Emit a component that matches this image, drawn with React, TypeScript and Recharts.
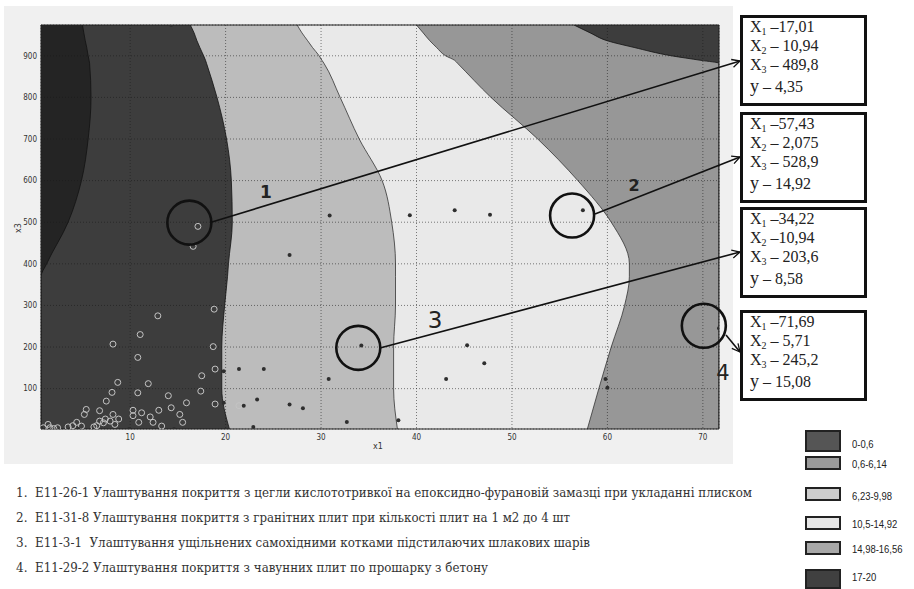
import React from 'react';
import {
  ComposedChart,
  Area,
  Scatter,
  XAxis,
  YAxis,
  CartesianGrid,
  ReferenceDot,
  ReferenceArea,
} from 'recharts';

// x3 levels at which the contour edges were read
const levels = [3, 100, 200, 300, 369, 400, 500, 600, 700, 800, 882, 889, 900, 920, 936, 955, 974];
// x1 position of each contour edge at those levels, left to right
const edgeDeep = [0.66, 0.66, 0.66, 0.66, 0.66, 1.25, 3.5, 4.9, 5.6, 5.9, 5.75, 5.7, 5.6, 5.45, 5.3, 5.15, 5.0];
const edgeDark = [20.4, 19.6, 19.6, 19.9, 20.2, 20.3, 20.7, 20.6, 20.1, 19.1, 18.0, 17.9, 17.7, 17.3, 17.0, 16.7, 16.3];
const edgeLight = [38.0, 37.6, 37.6, 37.8, 37.8, 37.8, 37.4, 36.4, 34.0, 32.0, 30.3, 30.1, 29.8, 29.1, 28.6, 28.0, 27.5];
const edgePale = [57.9, 59.1, 60.4, 61.8, 62.3, 62.3, 60.4, 56.9, 52.7, 47.8, 44.3, 44.0, 43.05, 42.1, 41.4, 40.7, 40.0];
const edgeCorner = [71.69, 71.69, 71.69, 71.69, 71.69, 71.69, 71.69, 71.69, 71.69, 71.69, 71.69, 69.8, 66.7, 62.8, 60.0, 58.2, 56.5];

const x1Ticks = [10, 20, 30, 40, 50, 60, 70];
const x3Ticks = [100, 200, 300, 400, 500, 600, 700, 800, 900];

// hollow markers (observations in the dark zone)
const holePoints = [
  [17.1, 490], [16.6, 442], [12.9, 275], [11.05, 230], [8.2, 207], [18.8, 291], [18.7, 201],
  [10.8, 175], [8.7, 115], [11.9, 112], [8.1, 91], [10.8, 90], [17.5, 131], [17.4, 94],
  [18.9, 147], [18.9, 63], [7.5, 70], [14.0, 83], [15.9, 66], [13.0, 48], [14.3, 54],
  [10.3, 48], [11.2, 42], [6.8, 47], [5.4, 50], [5.2, 38], [8.2, 38], [8.8, 27], [15.2, 38],
  [15.5, 19], [12.1, 32], [12.4, 19], [10.3, 35], [10.9, 19], [13.3, 10], [7.4, 27], [6.8, 22],
  [6.5, 11], [6.2, 8], [8.4, 14], [4.4, 19], [4.0, 11], [4.9, 10], [2.4, 6], [1.4, 14],
  [1.6, 6], [0.9, 6], [2.0, 4], [7.2, 18], [7.9, 22], [3.5, 8], [21.4, 59],
];
// filled markers
const dotPoints = [
  [9.9, 3], [14.6, 3], [4.6, 3], [0.66, 6], [14.3, 974], [26.7, 421], [19.8, 142], [21.4, 147],
  [24.0, 147], [19.8, 66], [21.9, 59], [23.3, 74], [26.7, 62], [22.9, 8], [30.9, 516], [39.3, 517],
  [44.0, 529], [47.7, 518], [57.43, 528.9], [34.22, 203.6], [30.8, 123], [28.1, 53], [32.7, 20],
  [38.1, 24], [45.3, 204], [47.1, 161], [43.1, 123], [59.8, 123], [60.0, 102], [71.69, 245.2],
];

// highlighted observations (circle centres)
const marks = [[16.2, 499], [56.3, 516], [33.9, 198], [70.1, 251]];

const noteX1 = [' –17,01', ' –57,43', ' –34,22', ' –71,69'];
const noteX2 = [' – 10,94', ' – 2,075', ' –10,94', ' – 5,71'];
const noteX3 = [' – 489,8', ' – 528,9', ' – 203,6', ' – 245,2'];
const noteY = [' – 4,35', ' – 14,92', ' – 8,58', ' – 15,08'];

const legendLabels = ['0-0,6', '0,6-6,14', '6,23-9,98', '10,5-14,92', '14,98-16,56', '17-20'];
const legendColors = ['#555555', '#9a9a9a', '#cdcdcd', '#e6e6e6', '#a8a8a8', '#404040'];

const workItems = [
  'E11-26-1 Улаштування покриття з цегли кислототривкої на епоксидно-фурановій замазці при укладанні плиском',
  'E11-31-8 Улаштування покриття з гранітних плит при кількості плит на 1 м2 до 4 шт',
  'E11-3-1  Улаштування ущільнених самохідними котками підстилаючих шлакових шарів',
  'E11-29-2 Улаштування покриття з чавунних плит по прошарку з бетону',
];
const workWidths = [717, 535, 555, 453];

const data = levels.map((x3, i) => ({
  x3,
  deep: edgeDeep[i],
  dark: edgeDark[i],
  light: edgeLight[i],
  pale: edgePale[i],
  corner: edgeCorner[i],
}));
const holes = holePoints.map(([x1, x3]) => ({ x1, x3 }));
const dots = dotPoints.map(([x1, x3]) => ({ x1, x3 }));

const Hole = (p: any) => <circle cx={p.cx} cy={p.cy} r={3} fill="none" stroke="#c4c4c4" strokeWidth={1} />;
const Dot = (p: any) => <circle cx={p.cx} cy={p.cy} r={2} fill="#2e2e2e" />;

const tickStyle = { fontSize: 8, fill: '#333', fontFamily: 'DejaVu Sans Condensed, DejaVu Sans, sans-serif' };

const boxTops = [15, 112, 207, 310];
const legendTops = [430, 456, 487, 516, 541, 569];
const legendHeights = [22, 14, 14, 14, 14, 20];
const legendMids = [444, 464, 496, 524, 549, 577];
const arrows = [
  [212, 222, 740, 61],
  [595, 214, 740, 157],
  [380, 348, 740, 252],
  [726, 335, 740, 352],
];

export default function App() {
  return (
    <div style={{ position: 'absolute', left: 0, top: 0, width: 914, height: 589, background: '#fff', overflow: 'hidden' }}>
      <div style={{ position: 'absolute', left: 4, top: 6, width: 729, height: 458, background: '#f0f0f0' }} />
      <div style={{ position: 'absolute', left: 0, top: 0 }}>
        <ComposedChart
          layout="vertical"
          width={733}
          height={464}
          data={data}
          margin={{ top: 25, right: 14, bottom: 14, left: 11 }}
        >
          <CartesianGrid horizontal={false} vertical={false} fill="#979797" fillOpacity={1} />
          <XAxis
            type="number"
            domain={[0.66, 71.69]}
            ticks={x1Ticks}
            allowDataOverflow
            tick={tickStyle}
            tickLine={false}
            axisLine={false}
            tickSize={3}
            tickMargin={2}
            height={21}
          />
          <YAxis
            type="number"
            dataKey="x3"
            domain={[3, 974]}
            ticks={x3Ticks}
            reversed
            allowDataOverflow
            tick={tickStyle}
            tickLine={false}
            axisLine={false}
            tickSize={3}
            tickMargin={1}
            width={30}
          />
          <Area dataKey="pale" type="monotoneY" fill="#e9e9e9" fillOpacity={1} stroke="#333" strokeWidth={0.8} isAnimationActive={false} />
          <Area dataKey="light" type="monotoneY" fill="#bcbcbc" fillOpacity={1} stroke="#333" strokeWidth={0.8} isAnimationActive={false} />
          <Area dataKey="dark" type="monotoneY" fill="#3d3d3d" fillOpacity={1} stroke="#111" strokeWidth={0.8} isAnimationActive={false} />
          <Area dataKey="deep" type="monotoneY" fill="#242424" fillOpacity={1} stroke="#111" strokeWidth={0.8} isAnimationActive={false} />
          <Area dataKey="corner" type="monotoneY" baseValue="dataMax" fill="#3d3d3d" fillOpacity={1} stroke="#111" strokeWidth={0.8} isAnimationActive={false} />
          <CartesianGrid stroke="#1a1a1a" strokeDasharray="1 2" strokeOpacity={0.55} zIndex={300} />
          <Scatter data={holes} dataKey="x1" shape={Hole} isAnimationActive={false} />
          <Scatter data={dots} dataKey="x1" shape={Dot} isAnimationActive={false} />
          <ReferenceArea x1={0.66} x2={71.69} y1={3} y2={974} fill="none" stroke="#222" strokeWidth={1} ifOverflow="visible" />
          {marks.map(([x, y], i) => (
            <ReferenceDot key={i} x={x} y={y} r={22} fill="none" stroke="#111" strokeWidth={2.6} ifOverflow="visible" />
          ))}
        </ComposedChart>
      </div>

      <svg width={914} height={589} style={{ position: 'absolute', left: 0, top: 0, pointerEvents: 'none' }}>
        <defs>
          <marker id="head" markerWidth={10} markerHeight={10} refX={9} refY={5} orient="auto" markerUnits="userSpaceOnUse">
            <path d="M1,1 L9,5 L1,9" fill="none" stroke="#111" strokeWidth={1.3} />
          </marker>
        </defs>
        {arrows.map(([x1, y1, x2, y2], i) => (
          <line key={i} x1={x1} y1={y1} x2={x2} y2={y2} stroke="#111" strokeWidth={1.6} markerEnd="url(#head)" />
        ))}
        <text x={266} y={198} fontSize={17} fontWeight="bold" textAnchor="middle" fill="#222" fontFamily="DejaVu Sans, sans-serif">1</text>
        <text x={634} y={191} fontSize={16} fontWeight="bold" textAnchor="middle" fill="#222" fontFamily="DejaVu Sans, sans-serif">2</text>
        <text x={435} y={328} fontSize={23} textAnchor="middle" fill="#222" fontFamily="DejaVu Sans, sans-serif">3</text>
        <text x={723} y={380} fontSize={21} textAnchor="middle" fill="#222" fontFamily="DejaVu Sans, sans-serif">4</text>
        <text x={378} y={449} fontSize={8} textAnchor="middle" fill="#333" fontFamily="DejaVu Sans, sans-serif">x1</text>
        <text x={21} y={228} fontSize={8} textAnchor="middle" fill="#333" fontFamily="DejaVu Sans, sans-serif" transform="rotate(-90 21 228)">x3</text>
        {workItems.map((t, i) => (
          <g key={i} fontFamily="DejaVu Serif, serif" fontSize={12} fill="#333">
            <text x={16} y={497 + i * 25}>{i + 1}.</text>
            <text x={35} y={497 + i * 25} textLength={workWidths[i]} lengthAdjust="spacingAndGlyphs" style={{ whiteSpace: 'pre' }}>{t}</text>
          </g>
        ))}
      </svg>

      {boxTops.map((top, i) => (
        <div
          key={i}
          style={{
            position: 'absolute',
            left: 740,
            top,
            width: 127,
            height: 91,
            border: '3px solid #111',
            boxSizing: 'border-box',
            background: '#fff',
            fontFamily: 'Liberation Serif, serif',
            fontSize: 16,
            color: '#222',
          }}
        >
          {[
            ['X', '1', noteX1[i]],
            ['X', '2', noteX2[i]],
            ['X', '3', noteX3[i]],
            ['y', '', noteY[i]],
          ].map(([a, s, v], j) => (
            <div key={j} style={{ position: 'absolute', left: 7, top: [0, 19, 38, 59][j], lineHeight: '18px', whiteSpace: 'pre' }}>
              <span style={j === 3 ? { fontSize: 18 } : undefined}>{a}</span>
              {s && <span style={{ fontSize: 10, position: 'relative', top: 3 }}>{s}</span>}
              {v}
            </div>
          ))}
        </div>
      ))}

      {legendLabels.map((label, i) => (
        <React.Fragment key={i}>
          <div
            style={{
              position: 'absolute',
              left: 805,
              top: legendTops[i],
              width: 36,
              height: legendHeights[i],
              border: '2px solid #222',
              boxSizing: 'border-box',
              background: legendColors[i],
            }}
          />
          <div
            style={{
              position: 'absolute',
              left: 852,
              top: legendMids[i] - 8,
              lineHeight: '16px',
              fontSize: 11,
              fontFamily: 'Liberation Sans, sans-serif',
              color: '#222',
              whiteSpace: 'nowrap',
              transform: 'scaleX(0.86)',
              transformOrigin: 'left center',
            }}
          >
            {label}
          </div>
        </React.Fragment>
      ))}
    </div>
  );
}
